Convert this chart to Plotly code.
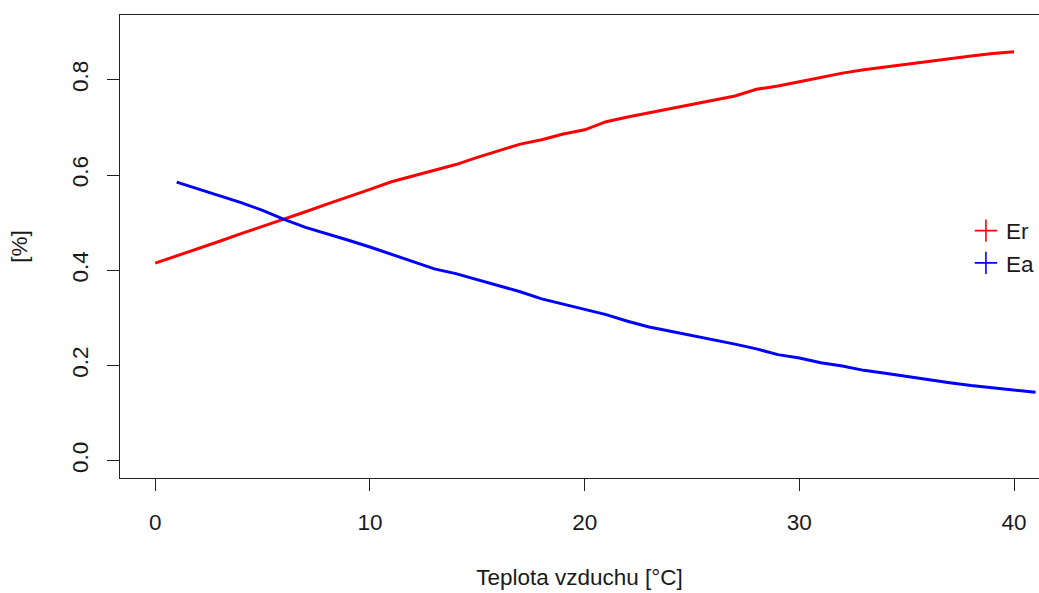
import plotly.graph_objects as go

# Data
temp_er = list(range(0, 41))
er = [0.415, 0.430, 0.446, 0.461, 0.477, 0.492, 0.508, 0.523, 0.539, 0.554,
      0.570, 0.586, 0.598, 0.609, 0.622, 0.637, 0.651, 0.665, 0.674, 0.686,
      0.695, 0.712, 0.722, 0.731, 0.740, 0.748, 0.757, 0.766, 0.780, 0.787,
      0.796, 0.805, 0.814, 0.821, 0.827, 0.833, 0.839, 0.845, 0.850, 0.855,
      0.859]
temp_ea = list(range(1, 42))
ea = [0.585, 0.571, 0.557, 0.542, 0.526, 0.507, 0.490, 0.477, 0.463, 0.449,
      0.434, 0.419, 0.403, 0.393, 0.380, 0.367, 0.355, 0.340, 0.329, 0.318,
      0.307, 0.293, 0.281, 0.272, 0.263, 0.255, 0.245, 0.235, 0.223, 0.216,
      0.206, 0.199, 0.190, 0.184, 0.177, 0.171, 0.164, 0.158, 0.153, 0.148,
      0.144]
x_ticks = [0, 10, 20, 30, 40]
y_ticks = [0.0, 0.2, 0.4, 0.6, 0.8]
y_tick_labels = ["0.0", "0.2", "0.4", "0.6", "0.8"]
series_names = ["Er", "Ea"]
series_colors = ["#FF0000", "#0000FF"]

FONT = "Liberation Sans, Arial, sans-serif"
FS = 22.5
TXT = "#1a1a1a"

fig = go.Figure()
for xs, ys, name, col in [(temp_er, er, series_names[0], series_colors[0]),
                          (temp_ea, ea, series_names[1], series_colors[1])]:
    fig.add_trace(go.Scatter(x=xs, y=ys, mode="lines", line=dict(color=col, width=3),
                             showlegend=False, hoverinfo="skip"))
for name, col in zip(series_names, series_colors):
    fig.add_trace(go.Scatter(x=[None], y=[None], mode="markers", name=name,
                             marker=dict(symbol="cross-thin", size=16,
                                         line=dict(color=col, width=1.6), color=col)))

axis_common = dict(showgrid=False, zeroline=False, showline=True, linecolor="#222",
                   linewidth=1.3, ticks="outside", ticklen=12, tickwidth=1.3,
                   tickcolor="#222", tickfont=dict(family=FONT, size=FS, color=TXT))

fig.update_layout(
    width=1039, height=593,
    margin=dict(l=120, r=0, t=15, b=115, autoexpand=False),
    paper_bgcolor="white", plot_bgcolor="white",
    font=dict(family=FONT, size=FS, color=TXT),
    xaxis=dict(range=[-1.64, 41.16], tickvals=x_ticks, mirror=True,
               ticklabelstandoff=12,
               title=dict(text="Teplota vzduchu [°C]", standoff=35,
                          font=dict(family=FONT, size=FS, color=TXT)),
               **axis_common),
    yaxis=dict(range=[-0.036, 0.936], tickvals=y_ticks, ticktext=y_tick_labels,
               tickangle=-90, ticklabelstandoff=10,
               title=dict(text="[%]", standoff=33,
                          font=dict(family=FONT, size=FS, color=TXT)),
               **axis_common),
    legend=dict(x=0.9205, y=0.499, xanchor="left", yanchor="middle",
                bgcolor="rgba(0,0,0,0)", font=dict(family=FONT, size=FS, color=TXT),
                itemwidth=30, tracegroupgap=0),
)

fig.write_html("out.html", config={"displayModeBar": False},
               post_script="document.body.style.margin='0';"
                           "document.body.style.overflow='hidden';")
